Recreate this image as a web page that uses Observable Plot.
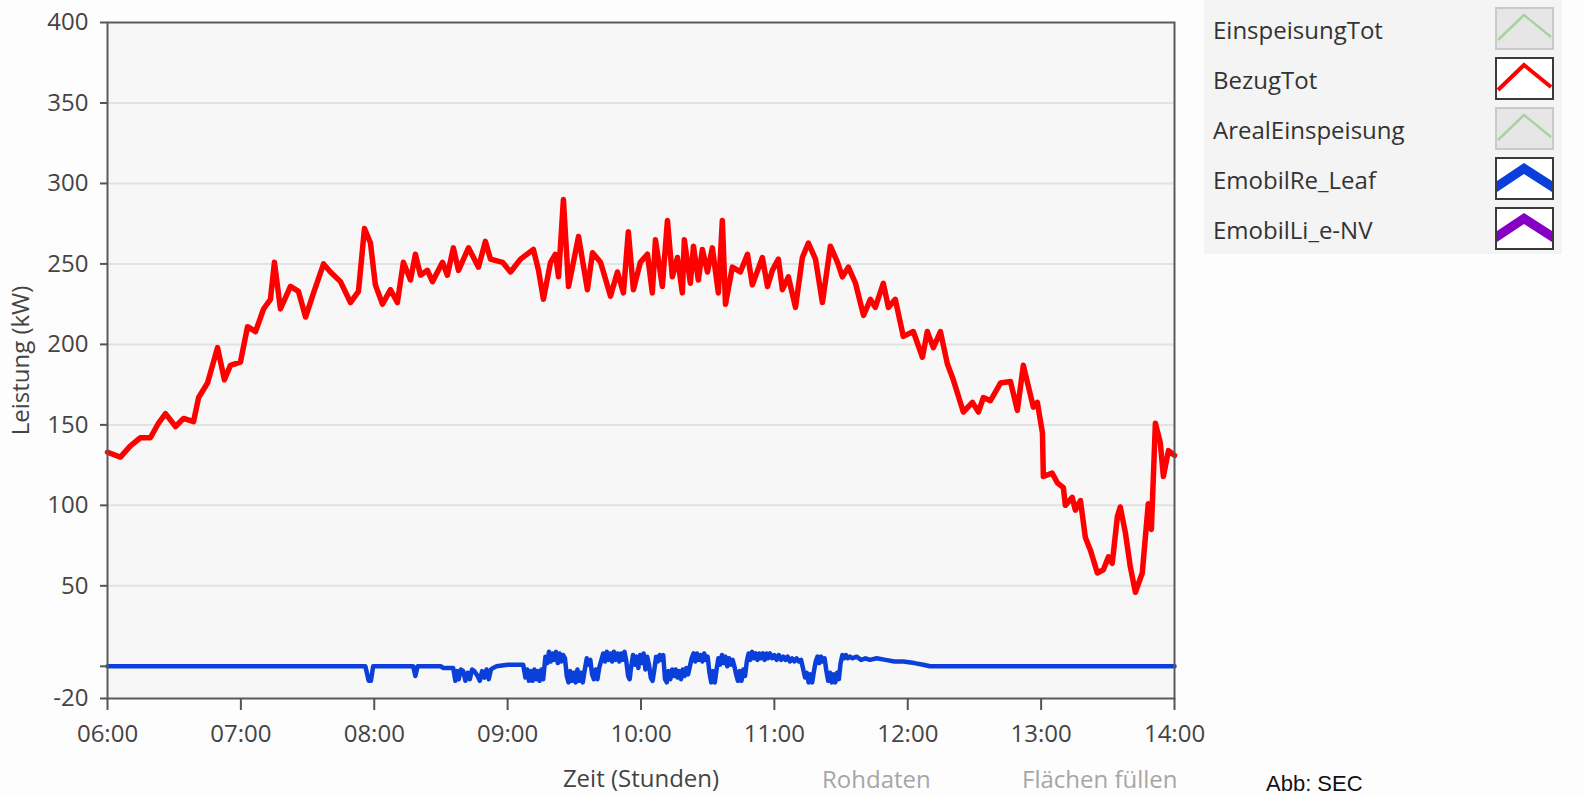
<!DOCTYPE html>
<html>
<head>
<meta charset="utf-8">
<script src="https://cdn.jsdelivr.net/npm/d3@7"></script>
<script src="https://cdn.jsdelivr.net/npm/@observablehq/plot@0.6"></script>
<style>
  html, body { margin: 0; padding: 0; background: #fdfdfd; }
  #wrap { position: relative; width: 1584px; height: 795px; overflow: hidden; font-family: "Open Sans", sans-serif; }
  #wrap > svg { position: absolute; left: 0; top: 0; overflow: visible; }
  .legend { position: absolute; left: 1204px; top: 0; width: 358px; height: 254px; background: #f4f4f4; }
  .legend .name { position: absolute; left: 9px; font-size: 24px; line-height: 30px; color: #333; white-space: nowrap; }
  .btn { position: absolute; font-size: 24px; line-height: 28px; color: #a6a6a6; white-space: nowrap; }
  .credit { position: absolute; left: 1266px; top: 774px; font-family: "Liberation Sans", Arial, sans-serif; font-size: 22px; line-height: 20px; color: #111; white-space: nowrap; }
</style>
</head>
<body>
<div id="wrap"></div>
<script>
// ---- data (minutes after 06:00, kW) ----
const bezugMin = [0,5.8,10.3,14.8,19.3,22.9,26.1,30.6,34.2,38.7,41,45,49.5,52.6,55.3,59.8,63,66.6,70.2,73.3,75.1,77.8,82.3,85.9,89.1,92.7,97.2,100.3,104.8,109.3,112.9,115.6,118.3,120.5,123.7,127.3,130.4,133.1,136.3,138.5,140.8,143.9,146.2,150.7,152.9,155.6,157.9,162.4,166.9,170,172.3,177.7,181.3,185.8,191.6,193.9,196.1,199.3,201.5,202.9,205.1,207.4,211.9,215.9,218.2,221.8,226.3,229.4,232.1,234.3,236.6,239.7,242.9,245.1,246.5,249.6,251.9,254.1,256.4,258.6,259.5,262.2,263.6,265.8,267.6,269.9,272.1,274.8,276.6,278,281.1,284.7,287.9,290.1,294.6,296.9,299.1,301.8,303.6,306.3,309.5,312.6,315.3,318.5,321.6,325.2,328.4,330.6,333.3,336.5,340.1,343.2,345.4,349,351.3,354.4,358,362.5,366.6,368.8,371.5,374.7,377.8,380.5,385,389.1,391.8,394,397.2,401.7,406.2,409.3,412,416.5,418.3,420.6,421,425,427.3,430,430.9,434,435.4,437.7,439.9,442.2,445.3,448,450.3,452,454.3,455.6,457.9,460.1,462.4,465.5,468.2,469.6,471.4,473.6,475,477.3,480];
const bezugKW  = [133,130,137,142,142,151,157,149,154,152,167,176,198,178,187,189,211,208,222,228,251,222,236,233,217,232,250,245,239,226,233,272,263,237,225,234,226,251,240,256,243,246,239,251,243,260,246,260,248,264,253,251,245,253,259,246,228,251,256,242,290,236,267,234,257,251,230,245,232,270,234,251,256,232,265,236,277,242,254,232,265,238,261,240,259,245,260,232,277,225,248,245,256,237,254,236,246,253,234,242,223,254,263,253,226,261,251,242,248,238,218,228,223,238,223,228,205,208,192,208,198,208,188,178,158,164,158,167,165,176,177,159,187,161,164,145,118,120,114,111,100,105,97,103,80,72,58,60,68,64,93,99,83,62,46,58,101,85,151,139,118,134,131];

const leafMin = [0,116,117.5,118.5,119.5,137.5,138.5,139.5,150,151,155.5,156.5,157.3,158,159,160,161,162,163,164,165,166.5,167.5,168.5,169.5,170.5,171.5,172.5,173.5,175,180,187,188,188.8,189.6,190.4,191.2,192,192.8,193.6,194.4,195.2,196,197,197.8,198.6,199.4,200.2,201,201.8,202.6,203.4,204.2,205,205.8,206.6,207.4,208.2,209,209.8,210.6,211.4,212.2,213,213.8,214.6,215.6,216.4,217.2,218,218.8,219.6,220.4,221.2,222.2,223,223.8,224.6,225.4,226.2,227,227.8,228.6,229.4,230.2,231,231.8,232.6,233.4,234.2,234.9,235.6,236.4,237.2,238,238.8,239.6,240.4,241.2,242,242.8,243.6,244.4,245.2,246,246.8,247.6,248.4,249.2,250,250.8,251.6,252.4,253.2,254,254.8,255.6,256.4,257.2,258,258.8,259.6,260.4,261.2,262,262.8,263.6,264.4,265.2,266,266.8,267.6,268.4,269.2,270,270.8,271.6,272.4,273.2,274,274.8,275.6,276.4,277.2,278,278.8,279.6,280.4,281.2,282,282.8,283.6,284.4,285.2,286,286.8,287.6,288.4,289.2,290,290.8,291.6,292.4,293.2,294,294.8,295.6,296.4,297.2,298,299,300,301,302,303,304,305,306,307,308,309,310,311,312,313,313.8,314.6,315.4,316.2,317,317.8,318.6,319.4,320.2,321,321.8,322.6,323.4,324.2,325,325.8,326.6,327.4,328.2,329,329.8,330.6,331.4,332.2,333,334,335,337,339,341,343,346,350,354,358,363,367,370,480];
const leafKW  = [0,0,-9,-9,0,0,-6,0,0,-1,-1,-9,-3,-8,-2,-3,-9,-4,-8,-2,-3,-6,-9,-3,-7,-2,-8,-2,-1,0,1,1,-7,-2,-9,-3,-9,-2,-8,-3,-9,-2,-8,6,2,9,3,8,4,9,2,8,3,7,5,-6,-10,-3,-9,-4,-10,-2,-9,-4,-10,-3,5,1,4,-5,-8,-2,-8,-1,4,8,3,9,4,8,3,9,4,8,3,8,4,9,3,-6,-8,0,7,1,6,-1,7,2,8,-2,6,1,-7,-9,-2,6,3,7,4,7,-8,-10,-3,-8,-2,-6,-2,-7,-3,-8,-2,-6,-1,-5,0,5,8,3,8,4,7,3,8,4,6,-4,-10,-3,-10,-2,5,1,7,2,6,0,5,1,4,0,-5,-9,-3,-9,-2,-6,3,8,4,9,5,8,4,8,5,8,4,8,5,8,5,7,4,7,4,6,4,6,3,5,3,5,3,4,-2,-7,-4,-10,-5,-10,-3,3,6,2,6,3,5,-3,-9,-4,-10,-5,-10,-4,-8,2,7,5,7,5,6,5,6,4,5,4,5,4,3,3,2,1,0,0];

const yTicks = [400,350,300,250,200,150,100,50,0,-20];
const yTickLabels = ["400","350","300","250","200","150","100","50","","-20"];
const gridValues = [350,300,250,200,150,100,50];
const xTickHours = [6,7,8,9,10,11,12,13,14];
const xTickLabels = ["06:00","07:00","08:00","09:00","10:00","11:00","12:00","13:00","14:00"];

const legendNames  = ["EinspeisungTot","BezugTot","ArealEinspeisung","EmobilRe_Leaf","EmobilLi_e-NV"];
const legendColors = ["#a9d39e","#ff0000","#a9d39e","#0b3fd9","#8600c4"];
const legendKinds  = ["off","line","off","band","band"];

// ---- build ----
const t0 = new Date(Date.UTC(2020, 0, 1, 6, 0, 0));
const at = m => new Date(+t0 + m * 60000);
const bezug = bezugMin.map((m, i) => ({t: at(m), v: bezugKW[i]}));
const leaf = leafMin.map((m, i) => ({t: at(m), v: leafKW[i]}));
const xTicks = xTickHours.map(h => at((h - 6) * 60));
const fmtX = d => xTickLabels[Math.round((d - t0) / 3600000)];
const fmtY = d => yTickLabels[yTicks.indexOf(d)];

const chart = Plot.plot({
  width: 1210,
  height: 795,
  marginLeft: 107,
  marginRight: 36,
  marginTop: 22,
  marginBottom: 97,
  style: {background: "transparent", fontFamily: "Open Sans, sans-serif", fontSize: "24px", color: "#444"},
  x: {type: "utc", domain: [at(0), at(480)]},
  y: {domain: [-20, 400]},
  marks: [
    Plot.frame({fill: "#f7f7f7", stroke: null}),
    Plot.ruleY(gridValues, {stroke: "#e2e2e2", strokeWidth: 2}),
    Plot.line(leaf, {x: "t", y: "v", stroke: "#0b3fd9", strokeWidth: 4.5, strokeLinejoin: "round"}),
    Plot.line(bezug, {x: "t", y: "v", stroke: "#ff0000", strokeWidth: 5.5, strokeLinejoin: "round"}),
    Plot.frame({stroke: "#5a5a5a", strokeWidth: 2}),
    Plot.axisY({ticks: yTicks, tickFormat: fmtY, tickSize: 7, tickPadding: 12, stroke: "#555", strokeWidth: 2,
      fill: "#444", fontSize: 24, label: "Leistung (kW)", labelAnchor: "center", labelOffset: 96, labelArrow: "none"}),
    Plot.axisX({ticks: xTicks, tickFormat: fmtX, tickSize: 12, tickPadding: 14, stroke: "#555", strokeWidth: 2,
      fill: "#444", fontSize: 24, label: "Zeit (Stunden)", labelAnchor: "center", labelOffset: 88, labelArrow: "none"})
  ]
});

const wrap = document.getElementById("wrap");
wrap.appendChild(chart);

// legend
const lg = document.createElement("div");
lg.className = "legend";
legendNames.forEach((name, i) => {
  const t = document.createElement("div");
  t.className = "name";
  t.style.top = (15 + 50 * i) + "px";
  t.textContent = name;
  lg.appendChild(t);
  const kind = legendKinds[i], col = legendColors[i];
  const bg = kind === "off" ? "#e6e6e6" : "#ffffff";
  const bd = kind === "off" ? "#c9c9c9" : "#3a3a3a";
  let inner;
  if (kind === "band") {
    inner = `<polygon points="2,24 29,6 57,24 57,35 29,17 2,35" fill="${col}"/>`;
  } else {
    const w = kind === "line" ? 4 : 2.5;
    inner = `<polyline points="3,33 29,8 56,30" fill="none" stroke="${col}" stroke-width="${w}"/>`;
  }
  const sw = document.createElementNS("http://www.w3.org/2000/svg", "svg");
  sw.setAttribute("width", 59);
  sw.setAttribute("height", 43);
  sw.style.position = "absolute";
  sw.style.left = "291px";
  sw.style.top = (7 + 50 * i) + "px";
  sw.innerHTML = `<rect x="1" y="1" width="57" height="41" fill="${bg}" stroke="${bd}" stroke-width="2"/>` + inner;
  lg.appendChild(sw);
});
wrap.appendChild(lg);

// footer controls and credit
[["Rohdaten", 822], ["Flächen füllen", 1022]].forEach(([txt, x]) => {
  const b = document.createElement("div");
  b.className = "btn";
  b.style.left = x + "px";
  b.style.top = "765px";
  b.textContent = txt;
  wrap.appendChild(b);
});
const cr = document.createElement("div");
cr.className = "credit";
cr.textContent = "Abb: SEC";
wrap.appendChild(cr);
</script>
</body>
</html>
